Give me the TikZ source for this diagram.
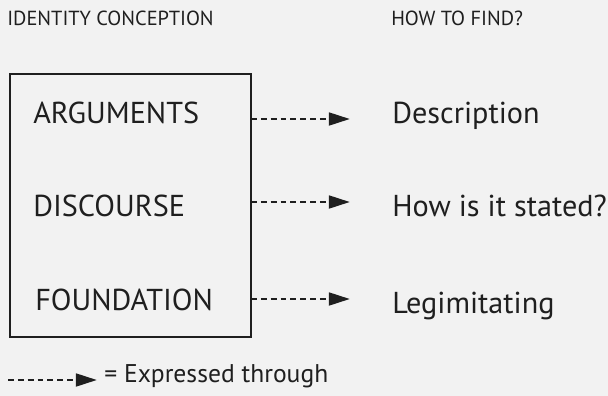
\documentclass[tikz,border=0pt]{standalone}
\usepackage{fontspec}
\setmainfont{PT Sans}
\usetikzlibrary{arrows.meta}

\definecolor{paper}{gray}{0.95}
\definecolor{ink}{gray}{0.12}
\tikzset{
  head/.style={anchor=base west, inner sep=0pt, text=ink, font=\fontsize{14.5}{16}\selectfont},
  item/.style={anchor=base west, inner sep=0pt, text=ink, font=\fontsize{21.5}{24}\selectfont},
  legend/.style={anchor=base west, inner sep=0pt, text=ink, font=\fontsize{18.2}{20}\selectfont},
  expr/.style={draw=ink, line width=2pt, dash pattern=on 4.2pt off 2.8pt,
    -{Triangle[length=15pt,width=9pt]}},
}

\begin{document}
\begin{tikzpicture}[x=0.025cm,y=-0.025cm]
\fill[paper] (0,0) rectangle (608,396);
\useasboundingbox (0,0) rectangle (608,396);
% column titles
\node[head] (idc) at (7,25) {IDENTITY CONCEPTION};
\node[head] (htf) at (391,25) {HOW TO FIND?};
% the box
\coordinate (boxnw) at (10,74);
\coordinate (boxse) at (251,337);
\draw[ink, line width=1.5pt] (boxnw) rectangle (boxse);
\node[item] (args) at (33,123) {ARGUMENTS};
\node[item] (disc) at (33,216) {DISCOURSE};
\node[item] (found) at (35,310) {FOUNDATION};
% how to find
\node[item] (desc) at (392,123) {Description};
\node[item] (stated) at (392,216) {How is it stated?};
\node[item] (legim) at (392,313) {Legimitating};
\coordinate (e1) at (350,119);
\coordinate (e2) at (350,202);
\coordinate (e3) at (350,299);
\draw[expr] (boxse |- e1) -- (e1);
\draw[expr] (boxse |- e2) -- (e2);
\draw[expr] (boxse |- e3) -- (e3);
% legend
\coordinate (l0) at (8,380);
\coordinate (l1) at (97,380);
\draw[expr] (l0) -- (l1);
\node[legend] (lgd) at (104,382) {= Expressed through};
\end{tikzpicture}
\end{document}
